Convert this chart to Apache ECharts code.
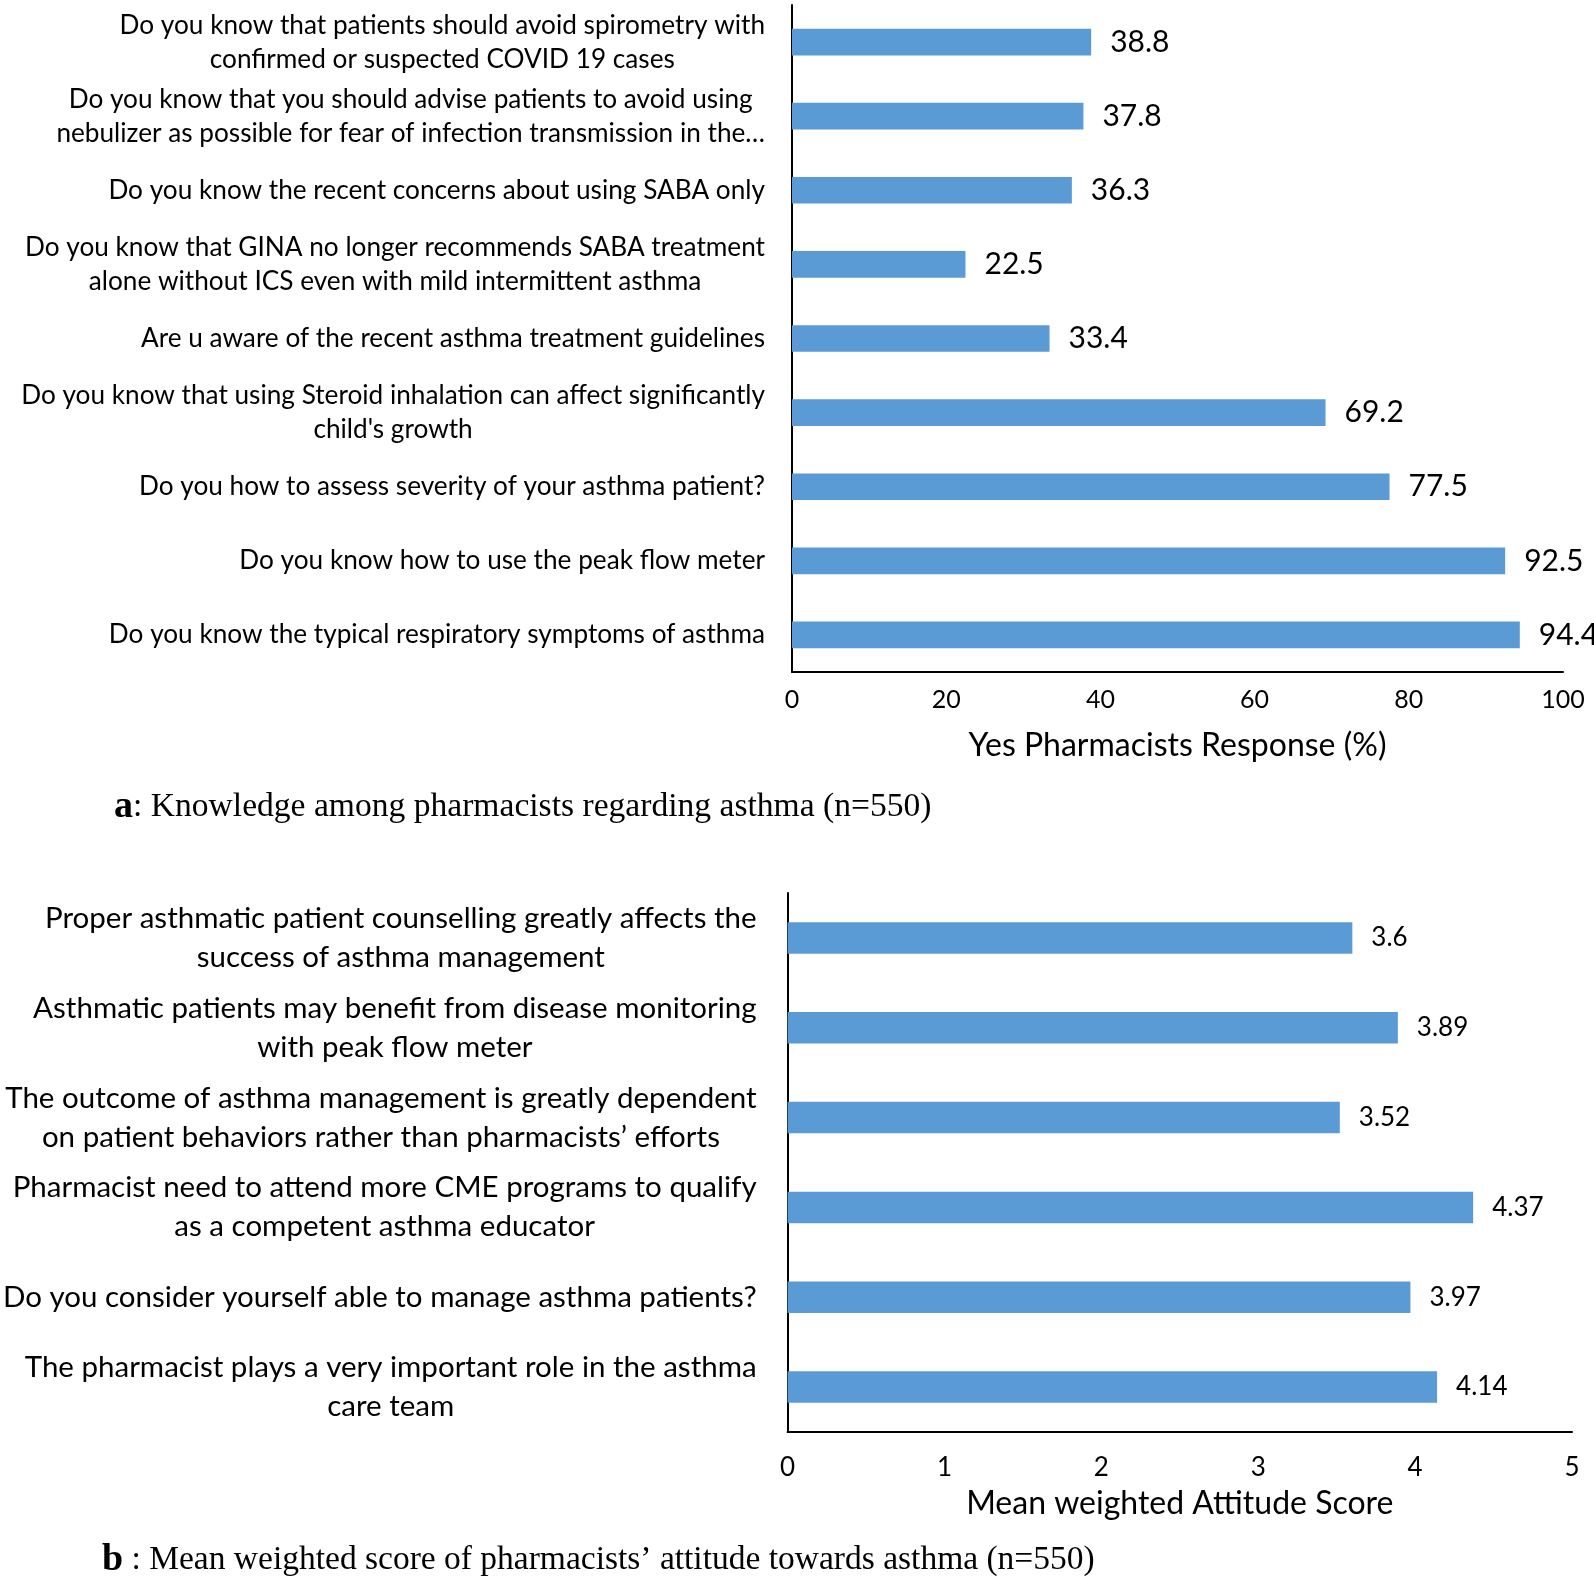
<!DOCTYPE html>
<html>
<head>
<meta charset="utf-8">
<script src="https://cdn.jsdelivr.net/npm/echarts@6/dist/echarts.min.js"></script>
<style>html,body{margin:0;padding:0;background:#fff}#c{width:1594px;height:1578px}</style>
</head>
<body>
<div id="c"></div>
<script>
const knowledgeCategories = [
  "Do you know that patients should avoid spirometry with\nconfirmed or suspected COVID 19 cases",
  "Do you know that you should advise patients to avoid using\nnebulizer as possible for fear of infection transmission in the…",
  "Do you know the recent concerns about using SABA only",
  "Do you know that GINA no longer recommends SABA treatment\nalone without ICS even with mild intermittent asthma",
  "Are u aware of the recent asthma treatment guidelines",
  "Do you know that using Steroid inhalation can affect significantly\nchild's growth",
  "Do you how to assess severity of your asthma patient?",
  "Do you know how to use the peak flow meter",
  "Do you know the typical respiratory symptoms of asthma"
];
const knowledgeValues = [38.8, 37.8, 36.3, 22.5, 33.4, 69.2, 77.5, 92.5, 94.4];

const attitudeCategories = [
  "Proper asthmatic patient counselling greatly affects the\nsuccess of asthma management",
  "Asthmatic patients may benefit from disease monitoring\nwith peak flow meter",
  "The outcome of asthma management is greatly dependent\non patient behaviors rather than pharmacists’ efforts",
  "Pharmacist need to attend more CME programs to qualify\nas a competent asthma educator",
  "Do you consider yourself able to manage asthma patients?",
  "The pharmacist plays a very important role in the asthma\ncare team"
];
const attitudeValues = [3.6, 3.89, 3.52, 4.37, 3.97, 4.14];

const knowledgeTicks = [0, 20, 40, 60, 80, 100];
const attitudeTicks = [0, 1, 2, 3, 4, 5];

const FONT = 'Lato';
const SERIF = 'Liberation Serif';
const BAR = '#5B9BD5';

function centered(v) {
  return v.split('\n').map(l => '{c|' + l + '}').join('\n');
}

const chart = echarts.init(document.getElementById('c'));
chart.setOption({
  animation: false,
  backgroundColor: '#fff',
  title: [
    {
      text: '{b|a}{t|: Knowledge among pharmacists regarding asthma (n=550)}',
      left: 109, top: 783,
      textStyle: {
        rich: {
          b: {fontFamily: SERIF, fontWeight: 'bold', fontSize: 38, color: '#000'},
          t: {fontFamily: SERIF, fontWeight: 'normal', fontSize: 33.6, color: '#000'}
        }
      }
    },
    {
      text: '{b|b}{t| : Mean weighted score of pharmacists’ attitude towards asthma (n=550)}',
      left: 97, top: 1536,
      textStyle: {
        rich: {
          b: {fontFamily: SERIF, fontWeight: 'bold', fontSize: 38, color: '#000'},
          t: {fontFamily: SERIF, fontWeight: 'normal', fontSize: 33.5, color: '#000'}
        }
      }
    }
  ],
  grid: [
    {left: 792, right: 31, top: 5, bottom: 906},
    {left: 786, right: 22, top: 893, bottom: 146}
  ],
  xAxis: [
    {
      gridIndex: 0, type: 'value', min: 0, max: 100, interval: 20,
      splitLine: {show: false},
      axisLine: {show: true, lineStyle: {color: '#000', width: 2}},
      axisTick: {show: false},
      axisLabel: {fontFamily: FONT, fontSize: 25, color: '#000', margin: 15,
        formatter: v => knowledgeTicks.includes(v) ? String(v) : ''},
      name: 'Yes Pharmacists Response (%)', nameLocation: 'middle', nameGap: 58,
      nameTextStyle: {fontFamily: FONT, fontSize: 32, color: '#000'}
    },
    {
      gridIndex: 1, type: 'value', min: 0, max: 5, interval: 1,
      splitLine: {show: false},
      axisLine: {show: true, lineStyle: {color: '#000', width: 2}},
      axisTick: {show: false},
      axisLabel: {fontFamily: FONT, fontSize: 26, color: '#000', margin: 23,
        formatter: v => attitudeTicks.includes(v) ? String(v) : ''},
      name: 'Mean weighted Attitude Score', nameLocation: 'middle', nameGap: 56,
      nameTextStyle: {fontFamily: FONT, fontSize: 32, color: '#000'}
    }
  ],
  yAxis: [
    {
      gridIndex: 0, type: 'category', data: knowledgeCategories, inverse: true,
      axisLine: {show: true, lineStyle: {color: '#000', width: 2}},
      axisTick: {show: false},
      axisLabel: {interval: 0, margin: 27, align: 'right', formatter: centered,
        rich: {c: {align: 'center', fontFamily: FONT, fontSize: 26.2, lineHeight: 34, color: '#000'}}}
    },
    {
      gridIndex: 1, type: 'category', data: attitudeCategories, inverse: true,
      axisLine: {show: true, lineStyle: {color: '#000', width: 2}},
      axisTick: {show: false},
      axisLabel: {interval: 0, margin: 31, align: 'right', formatter: centered,
        rich: {c: {align: 'center', fontFamily: FONT, fontSize: 29.5, lineHeight: 39, color: '#000'}}}
    }
  ],
  series: [
    {
      type: 'bar', xAxisIndex: 0, yAxisIndex: 0, data: knowledgeValues,
      barWidth: '36%', itemStyle: {color: BAR},
      label: {show: true, position: 'right', distance: 19, fontFamily: FONT, fontSize: 30, color: '#000'}
    },
    {
      type: 'bar', xAxisIndex: 1, yAxisIndex: 1, data: attitudeValues,
      barWidth: '35%', itemStyle: {color: BAR},
      label: {show: true, position: 'right', distance: 19, fontFamily: FONT, fontSize: 26, color: '#000'}
    }
  ]
});
</script>
</body>
</html>
